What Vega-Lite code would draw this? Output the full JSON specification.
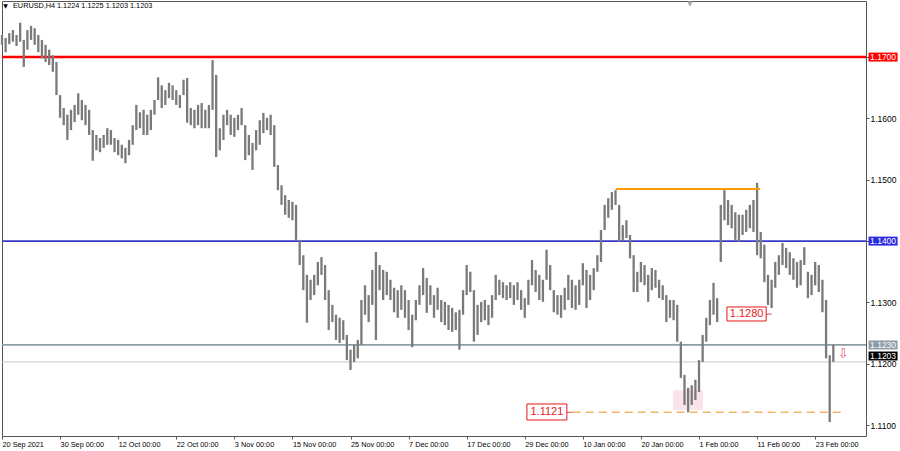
{
  "$schema": "https://vega.github.io/schema/vega-lite/v6.json",
  "width": 864,
  "height": 435,
  "autosize": {"type": "none"},
  "padding": {"left": 2, "top": 1, "right": 34, "bottom": 15},
  "background": "white",
  "config": {
    "view": {"stroke": "#555555", "strokeWidth": 1},
    "axis": {"grid": false, "domain": false, "labelFont": "Liberation Sans", "labelColor": "#000000", "tickColor": "#555555", "titleFontSize": 0}
  },
  "datasets": {
    "bars": [
      {"i":0,"hi":1.1736,"lo":1.1720},{"i":1,"hi":1.1731,"lo":1.1708},{"i":2,"hi":1.1739,"lo":1.1721},{"i":3,"hi":1.1744,"lo":1.1725},
      {"i":4,"hi":1.1736,"lo":1.1718},{"i":5,"hi":1.1756,"lo":1.1725},{"i":6,"hi":1.1728,"lo":1.1684},{"i":7,"hi":1.1744,"lo":1.1712},
      {"i":8,"hi":1.1751,"lo":1.1728},{"i":9,"hi":1.1747,"lo":1.1720},{"i":10,"hi":1.1736,"lo":1.1708},{"i":11,"hi":1.1728,"lo":1.1698},
      {"i":12,"hi":1.1720,"lo":1.1692},{"i":13,"hi":1.1712,"lo":1.1687},{"i":14,"hi":1.1703,"lo":1.1676},{"i":15,"hi":1.1692,"lo":1.1638},
      {"i":16,"hi":1.1638,"lo":1.1601},{"i":17,"hi":1.1617,"lo":1.1589},{"i":18,"hi":1.1606,"lo":1.1565},{"i":19,"hi":1.1614,"lo":1.1581},
      {"i":20,"hi":1.1622,"lo":1.1594},{"i":21,"hi":1.1641,"lo":1.1606},{"i":22,"hi":1.1630,"lo":1.1597},{"i":23,"hi":1.1622,"lo":1.1589},
      {"i":24,"hi":1.1614,"lo":1.1573},{"i":25,"hi":1.1581,"lo":1.1531},{"i":26,"hi":1.1573,"lo":1.1548},{"i":27,"hi":1.1568,"lo":1.1545},
      {"i":28,"hi":1.1573,"lo":1.1552},{"i":29,"hi":1.1584,"lo":1.1557},{"i":30,"hi":1.1581,"lo":1.1557},{"i":31,"hi":1.1568,"lo":1.1545},
      {"i":32,"hi":1.1565,"lo":1.1540},{"i":33,"hi":1.1557,"lo":1.1535},{"i":34,"hi":1.1552,"lo":1.1527},{"i":35,"hi":1.1565,"lo":1.1540},
      {"i":36,"hi":1.1589,"lo":1.1557},{"i":37,"hi":1.1622,"lo":1.1581},{"i":38,"hi":1.1610,"lo":1.1584},{"i":39,"hi":1.1614,"lo":1.1573},
      {"i":40,"hi":1.1606,"lo":1.1573},{"i":41,"hi":1.1614,"lo":1.1581},{"i":42,"hi":1.1630,"lo":1.1606},{"i":43,"hi":1.1667,"lo":1.1630},
      {"i":44,"hi":1.1654,"lo":1.1617},{"i":45,"hi":1.1646,"lo":1.1622},{"i":46,"hi":1.1658,"lo":1.1633},{"i":47,"hi":1.1654,"lo":1.1630},
      {"i":48,"hi":1.1646,"lo":1.1622},{"i":49,"hi":1.1638,"lo":1.1617},{"i":50,"hi":1.1663,"lo":1.1638},{"i":51,"hi":1.1666,"lo":1.1593},
      {"i":52,"hi":1.1617,"lo":1.1589},{"i":53,"hi":1.1614,"lo":1.1584},{"i":54,"hi":1.1622,"lo":1.1589},{"i":55,"hi":1.1625,"lo":1.1584},
      {"i":56,"hi":1.1614,"lo":1.1584},{"i":57,"hi":1.1622,"lo":1.1584},{"i":58,"hi":1.1695,"lo":1.1614},{"i":59,"hi":1.1671,"lo":1.1537},
      {"i":60,"hi":1.1584,"lo":1.1548},{"i":61,"hi":1.1606,"lo":1.1565},{"i":62,"hi":1.1614,"lo":1.1589},{"i":63,"hi":1.1606,"lo":1.1573},
      {"i":64,"hi":1.1601,"lo":1.1570},{"i":65,"hi":1.1606,"lo":1.1581},{"i":66,"hi":1.1617,"lo":1.1589},{"i":67,"hi":1.1589,"lo":1.1532},
      {"i":68,"hi":1.1573,"lo":1.1540},{"i":69,"hi":1.1560,"lo":1.1516},{"i":70,"hi":1.1581,"lo":1.1548},{"i":71,"hi":1.1597,"lo":1.1557},
      {"i":72,"hi":1.1609,"lo":1.1576},{"i":73,"hi":1.1601,"lo":1.1581},{"i":74,"hi":1.1606,"lo":1.1573},{"i":75,"hi":1.1589,"lo":1.1521},
      {"i":76,"hi":1.1524,"lo":1.1483},{"i":77,"hi":1.1491,"lo":1.1459},{"i":78,"hi":1.1475,"lo":1.1443},{"i":79,"hi":1.1467,"lo":1.1438},
      {"i":80,"hi":1.1464,"lo":1.1434},{"i":81,"hi":1.1459,"lo":1.1402},{"i":82,"hi":1.1402,"lo":1.1361},{"i":83,"hi":1.1377,"lo":1.1320},
      {"i":84,"hi":1.1345,"lo":1.1267},{"i":85,"hi":1.1337,"lo":1.1304},{"i":86,"hi":1.1345,"lo":1.1312},{"i":87,"hi":1.1366,"lo":1.1328},
      {"i":88,"hi":1.1374,"lo":1.1345},{"i":89,"hi":1.1361,"lo":1.1304},{"i":90,"hi":1.1320,"lo":1.1255},{"i":91,"hi":1.1296,"lo":1.1268},
      {"i":92,"hi":1.1280,"lo":1.1239},{"i":93,"hi":1.1275,"lo":1.1234},{"i":94,"hi":1.1271,"lo":1.1239},{"i":95,"hi":1.1247,"lo":1.1206},
      {"i":96,"hi":1.1223,"lo":1.1190},{"i":97,"hi":1.1231,"lo":1.1203},{"i":98,"hi":1.1239,"lo":1.1209},{"i":99,"hi":1.1304,"lo":1.1231},
      {"i":100,"hi":1.1328,"lo":1.1280},{"i":101,"hi":1.1312,"lo":1.1268},{"i":102,"hi":1.1353,"lo":1.1296},{"i":103,"hi":1.1382,"lo":1.1239},
      {"i":104,"hi":1.1361,"lo":1.1320},{"i":105,"hi":1.1353,"lo":1.1304},{"i":106,"hi":1.1350,"lo":1.1312},{"i":107,"hi":1.1337,"lo":1.1304},
      {"i":108,"hi":1.1324,"lo":1.1284},{"i":109,"hi":1.1320,"lo":1.1275},{"i":110,"hi":1.1328,"lo":1.1288},{"i":111,"hi":1.1320,"lo":1.1275},
      {"i":112,"hi":1.1304,"lo":1.1255},{"i":113,"hi":1.1280,"lo":1.1227},{"i":114,"hi":1.1304,"lo":1.1271},{"i":115,"hi":1.1328,"lo":1.1296},
      {"i":116,"hi":1.1356,"lo":1.1312},{"i":117,"hi":1.1340,"lo":1.1283},{"i":118,"hi":1.1328,"lo":1.1296},{"i":119,"hi":1.1312,"lo":1.1275},
      {"i":120,"hi":1.1324,"lo":1.1288},{"i":121,"hi":1.1304,"lo":1.1268},{"i":122,"hi":1.1301,"lo":1.1263},{"i":123,"hi":1.1296,"lo":1.1255},
      {"i":124,"hi":1.1291,"lo":1.1252},{"i":125,"hi":1.1284,"lo":1.1255},{"i":126,"hi":1.1288,"lo":1.1223},{"i":127,"hi":1.1320,"lo":1.1280},
      {"i":128,"hi":1.1361,"lo":1.1312},{"i":129,"hi":1.1350,"lo":1.1317},{"i":130,"hi":1.1320,"lo":1.1236},{"i":131,"hi":1.1296,"lo":1.1247},
      {"i":132,"hi":1.1301,"lo":1.1268},{"i":133,"hi":1.1304,"lo":1.1271},{"i":134,"hi":1.1296,"lo":1.1263},{"i":135,"hi":1.1312,"lo":1.1275},
      {"i":136,"hi":1.1345,"lo":1.1304},{"i":137,"hi":1.1337,"lo":1.1312},{"i":138,"hi":1.1333,"lo":1.1307},{"i":139,"hi":1.1328,"lo":1.1304},
      {"i":140,"hi":1.1333,"lo":1.1307},{"i":141,"hi":1.1328,"lo":1.1296},{"i":142,"hi":1.1333,"lo":1.1304},{"i":143,"hi":1.1320,"lo":1.1288},
      {"i":144,"hi":1.1307,"lo":1.1275},{"i":145,"hi":1.1337,"lo":1.1296},{"i":146,"hi":1.1369,"lo":1.1328},{"i":147,"hi":1.1353,"lo":1.1317},
      {"i":148,"hi":1.1345,"lo":1.1304},{"i":149,"hi":1.1337,"lo":1.1301},{"i":150,"hi":1.1386,"lo":1.1337},{"i":151,"hi":1.1361,"lo":1.1320},
      {"i":152,"hi":1.1320,"lo":1.1284},{"i":153,"hi":1.1312,"lo":1.1280},{"i":154,"hi":1.1312,"lo":1.1275},{"i":155,"hi":1.1324,"lo":1.1288},
      {"i":156,"hi":1.1345,"lo":1.1304},{"i":157,"hi":1.1337,"lo":1.1291},{"i":158,"hi":1.1328,"lo":1.1288},{"i":159,"hi":1.1337,"lo":1.1296},
      {"i":160,"hi":1.1364,"lo":1.1328},{"i":161,"hi":1.1353,"lo":1.1291},{"i":162,"hi":1.1345,"lo":1.1304},{"i":163,"hi":1.1356,"lo":1.1320},
      {"i":164,"hi":1.1377,"lo":1.1350},{"i":165,"hi":1.1418,"lo":1.1366},{"i":166,"hi":1.1459,"lo":1.1418},{"i":167,"hi":1.1470,"lo":1.1438},
      {"i":168,"hi":1.1480,"lo":1.1451},{"i":169,"hi":1.1483,"lo":1.1459},{"i":170,"hi":1.1459,"lo":1.1399},{"i":171,"hi":1.1426,"lo":1.1402},
      {"i":172,"hi":1.1434,"lo":1.1405},{"i":173,"hi":1.1410,"lo":1.1372},{"i":174,"hi":1.1377,"lo":1.1317},{"i":175,"hi":1.1350,"lo":1.1317},
      {"i":176,"hi":1.1366,"lo":1.1333},{"i":177,"hi":1.1361,"lo":1.1328},{"i":178,"hi":1.1345,"lo":1.1301},{"i":179,"hi":1.1356,"lo":1.1320},
      {"i":180,"hi":1.1353,"lo":1.1324},{"i":181,"hi":1.1337,"lo":1.1307},{"i":182,"hi":1.1328,"lo":1.1304},{"i":183,"hi":1.1312,"lo":1.1268},
      {"i":184,"hi":1.1304,"lo":1.1275},{"i":185,"hi":1.1304,"lo":1.1271},{"i":186,"hi":1.1296,"lo":1.1236},{"i":187,"hi":1.1236,"lo":1.1177},
      {"i":188,"hi":1.1182,"lo":1.1133},{"i":189,"hi":1.1161,"lo":1.1121},{"i":190,"hi":1.1165,"lo":1.1133},{"i":191,"hi":1.1174,"lo":1.1141},
      {"i":192,"hi":1.1206,"lo":1.1154},{"i":193,"hi":1.1247,"lo":1.1203},{"i":194,"hi":1.1275,"lo":1.1236},{"i":195,"hi":1.1304,"lo":1.1263},
      {"i":196,"hi":1.1332,"lo":1.1280},{"i":197,"hi":1.1307,"lo":1.1268},{"i":198,"hi":1.1459,"lo":1.1366},{"i":199,"hi":1.1483,"lo":1.1434},
      {"i":200,"hi":1.1467,"lo":1.1426},{"i":201,"hi":1.1459,"lo":1.1421},{"i":202,"hi":1.1447,"lo":1.1402},{"i":203,"hi":1.1443,"lo":1.1399},
      {"i":204,"hi":1.1443,"lo":1.1410},{"i":205,"hi":1.1451,"lo":1.1415},{"i":206,"hi":1.1459,"lo":1.1421},{"i":207,"hi":1.1467,"lo":1.1415},
      {"i":208,"hi":1.1495,"lo":1.1377},{"i":209,"hi":1.1415,"lo":1.1372},{"i":210,"hi":1.1394,"lo":1.1333},{"i":211,"hi":1.1345,"lo":1.1296},
      {"i":212,"hi":1.1337,"lo":1.1291},{"i":213,"hi":1.1366,"lo":1.1324},{"i":214,"hi":1.1377,"lo":1.1345},{"i":215,"hi":1.1397,"lo":1.1361},
      {"i":216,"hi":1.1389,"lo":1.1356},{"i":217,"hi":1.1382,"lo":1.1345},{"i":218,"hi":1.1372,"lo":1.1337},{"i":219,"hi":1.1366,"lo":1.1324},
      {"i":220,"hi":1.1369,"lo":1.1328},{"i":221,"hi":1.1390,"lo":1.1361},{"i":222,"hi":1.1350,"lo":1.1307},{"i":223,"hi":1.1345,"lo":1.1312},
      {"i":224,"hi":1.1366,"lo":1.1328},{"i":225,"hi":1.1361,"lo":1.1317},{"i":226,"hi":1.1337,"lo":1.1284},{"i":227,"hi":1.1304,"lo":1.1209},
      {"i":228,"hi":1.1214,"lo":1.1105},{"i":229,"hi":1.1231,"lo":1.1203}
    ]
  },
  "layer": [
    {
      "data": {"values": [{}]},
      "mark": {"type": "rect", "color": "#fbe3ea"},
      "encoding": {
        "x": {"datum": 184.8, "type": "quantitative", "scale": {"domain": [0, 238], "nice": false, "zero": false}},
        "x2": {"datum": 193.1},
        "y": {"datum": 1.1157, "type": "quantitative", "scale": {"domain": [1.10823, 1.17914], "nice": false, "zero": false}},
        "y2": {"datum": 1.1125}
      }
    },
    {
      "data": {"values": [{}]},
      "mark": {"type": "rule", "color": "#ff0000", "strokeWidth": 2.5},
      "encoding": {"y": {"datum": 1.17}}
    },
    {
      "data": {"values": [{}]},
      "mark": {"type": "rule", "color": "#3838c8", "strokeWidth": 1.6},
      "encoding": {"y": {"datum": 1.14}}
    },
    {
      "data": {"values": [{}]},
      "mark": {"type": "rule", "color": "#8e9ca4", "strokeWidth": 1.8},
      "encoding": {"y": {"datum": 1.1231}}
    },
    {
      "data": {"values": [{}]},
      "mark": {"type": "rule", "color": "#c8c8c8", "strokeWidth": 1},
      "encoding": {"y": {"datum": 1.1203}}
    },
    {
      "data": {"name": "bars"},
      "mark": {"type": "rule", "color": "#7a7a7a", "strokeWidth": 2.3},
      "encoding": {
        "x": {
          "field": "i", "type": "quantitative", "title": null,
          "scale": {"domain": [0, 238], "nice": false, "zero": false},
          "axis": {
            "orient": "bottom", "values": [0,16,32,48,64,80,96,112,128,144,160,176,192,208,224],
            "labelExpr": "['20 Sep 2021','30 Sep 00:00','12 Oct 00:00','22 Oct 00:00','3 Nov 00:00','15 Nov 00:00','25 Nov 00:00','7 Dec 00:00','17 Dec 00:00','29 Dec 00:00','10 Jan 00:00','20 Jan 00:00','1 Feb 00:00','11 Feb 00:00','23 Feb 00:00'][round(datum.value/16)]",
            "labelAlign": "left", "labelFontSize": 7.3, "labelPadding": 1, "tickSize": 3,
            "labelOverlap": false, "labelFlush": false, "labelBound": false, "title": null
          }
        },
        "y": {
          "field": "hi", "type": "quantitative", "title": null,
          "scale": {"domain": [1.10823, 1.17914], "nice": false, "zero": false},
          "axis": {
            "orient": "right", "values": [1.11,1.115,1.12,1.125,1.13,1.135,1.14,1.145,1.15,1.155,1.16,1.165,1.17,1.175],
            "format": ".4f", "labelFontSize": 8.5, "labelPadding": 1, "tickSize": 3,
            "labelOverlap": false, "labelFlush": false, "labelBound": false, "title": null
          }
        },
        "y2": {"field": "lo"}
      }
    },
    {
      "data": {"values": [{}]},
      "mark": {"type": "rule", "color": "#ff9a00", "strokeWidth": 2},
      "encoding": {"x": {"datum": 169.1}, "x2": {"datum": 208.8}, "y": {"datum": 1.1485}}
    },
    {
      "data": {"values": [{}]},
      "mark": {"type": "rule", "color": "#f2b56e", "strokeWidth": 1.5, "strokeDash": [8, 5]},
      "encoding": {"x": {"datum": 157.2}, "x2": {"datum": 231.7}, "y": {"datum": 1.1121}}
    },
    {
      "data": {"values": [{}]},
      "mark": {"type": "rule", "color": "#d84848", "strokeWidth": 1},
      "encoding": {"x": {"datum": 155.6}, "x2": {"datum": 157.2}, "y": {"datum": 1.1121}}
    },
    {
      "data": {"values": [{}]},
      "mark": {"type": "rule", "color": "#d84848", "strokeWidth": 1},
      "encoding": {"x": {"datum": 210.5}, "x2": {"datum": 212.0}, "y": {"datum": 1.1281}}
    },
    {
      "data": {"values": [{}]},
      "mark": {"type": "rect", "fill": "#ffffff", "stroke": "#e81818", "strokeWidth": 1},
      "encoding": {"x": {"datum": 144.6}, "x2": {"datum": 155.6}, "y": {"datum": 1.11345}, "y2": {"datum": 1.11084}}
    },
    {
      "data": {"values": [{}]},
      "mark": {"type": "text", "text": "1.1121", "color": "#e81818", "font": "Liberation Sans", "fontSize": 11, "align": "center", "baseline": "middle"},
      "encoding": {"x": {"datum": 150.1}, "y": {"datum": 1.1121}}
    },
    {
      "data": {"values": [{}]},
      "mark": {"type": "rect", "fill": "#ffffff", "stroke": "#e81818", "strokeWidth": 1},
      "encoding": {"x": {"datum": 199.7}, "x2": {"datum": 210.5}, "y": {"datum": 1.12926}, "y2": {"datum": 1.12698}}
    },
    {
      "data": {"values": [{}]},
      "mark": {"type": "text", "text": "1.1280", "color": "#e81818", "font": "Liberation Sans", "fontSize": 11, "align": "center", "baseline": "middle"},
      "encoding": {"x": {"datum": 205.1}, "y": {"datum": 1.1281}}
    },
    {
      "data": {"values": [{}]},
      "mark": {"type": "text", "text": "⇩", "color": "#e0607a", "font": "DejaVu Sans", "fontSize": 13, "align": "center", "baseline": "middle"},
      "encoding": {"x": {"datum": 231.7}, "y": {"datum": 1.1216}}
    },
    {
      "data": {"values": [{}]},
      "mark": {"type": "rect", "fill": "#ff0000", "clip": false},
      "encoding": {"x": {"datum": 238.7}, "x2": {"datum": 246.7}, "y": {"datum": 1.17073}, "y2": {"datum": 1.16927}}
    },
    {
      "data": {"values": [{}]},
      "mark": {"type": "rect", "fill": "#2a2ae0", "clip": false},
      "encoding": {"x": {"datum": 238.7}, "x2": {"datum": 246.7}, "y": {"datum": 1.14073}, "y2": {"datum": 1.13927}}
    },
    {
      "data": {"values": [{}]},
      "mark": {"type": "rect", "fill": "#8c9ca8", "clip": false},
      "encoding": {"x": {"datum": 238.7}, "x2": {"datum": 246.7}, "y": {"datum": 1.1238}, "y2": {"datum": 1.12234}}
    },
    {
      "data": {"values": [{}]},
      "mark": {"type": "rect", "fill": "#000000", "clip": false},
      "encoding": {"x": {"datum": 238.7}, "x2": {"datum": 246.7}, "y": {"datum": 1.1220}, "y2": {"datum": 1.12054}}
    },
    {
      "data": {"values": [{"p": 1.17, "t": "1.1700"}, {"p": 1.14, "t": "1.1400"}, {"p": 1.12307, "t": "1.1230"}, {"p": 1.12127, "t": "1.1203"}]},
      "mark": {"type": "text", "color": "#ffffff", "font": "Liberation Sans", "fontSize": 8.5, "align": "center", "baseline": "middle", "clip": false},
      "encoding": {"x": {"datum": 242.7}, "y": {"field": "p", "type": "quantitative"}, "text": {"field": "t"}}
    },
    {
      "data": {"values": [{}]},
      "mark": {"type": "text", "text": "▼", "color": "#000000", "font": "DejaVu Sans", "fontSize": 6, "align": "center", "baseline": "middle"},
      "encoding": {"x": {"datum": 0.96}, "y": {"datum": 1.1783}}
    },
    {
      "data": {"values": [{}]},
      "mark": {"type": "text", "text": "EURUSD,H4", "color": "#000000", "font": "Liberation Sans", "fontSize": 7.3, "align": "left", "baseline": "middle"},
      "encoding": {"x": {"datum": 3.03}, "y": {"datum": 1.1783}}
    },
    {
      "data": {"values": [{}]},
      "mark": {"type": "text", "text": "1.1224 1.1225 1.1203 1.1203", "color": "#000000", "font": "Liberation Sans", "fontSize": 7.3, "align": "left", "baseline": "middle"},
      "encoding": {"x": {"datum": 15.15}, "y": {"datum": 1.1783}}
    },
    {
      "data": {"values": [{}]},
      "mark": {"type": "text", "text": "▼", "color": "#a8a8a8", "font": "DejaVu Sans", "fontSize": 7, "align": "center", "baseline": "middle"},
      "encoding": {"x": {"datum": 189.5}, "y": {"datum": 1.1787}}
    }
  ]
}
